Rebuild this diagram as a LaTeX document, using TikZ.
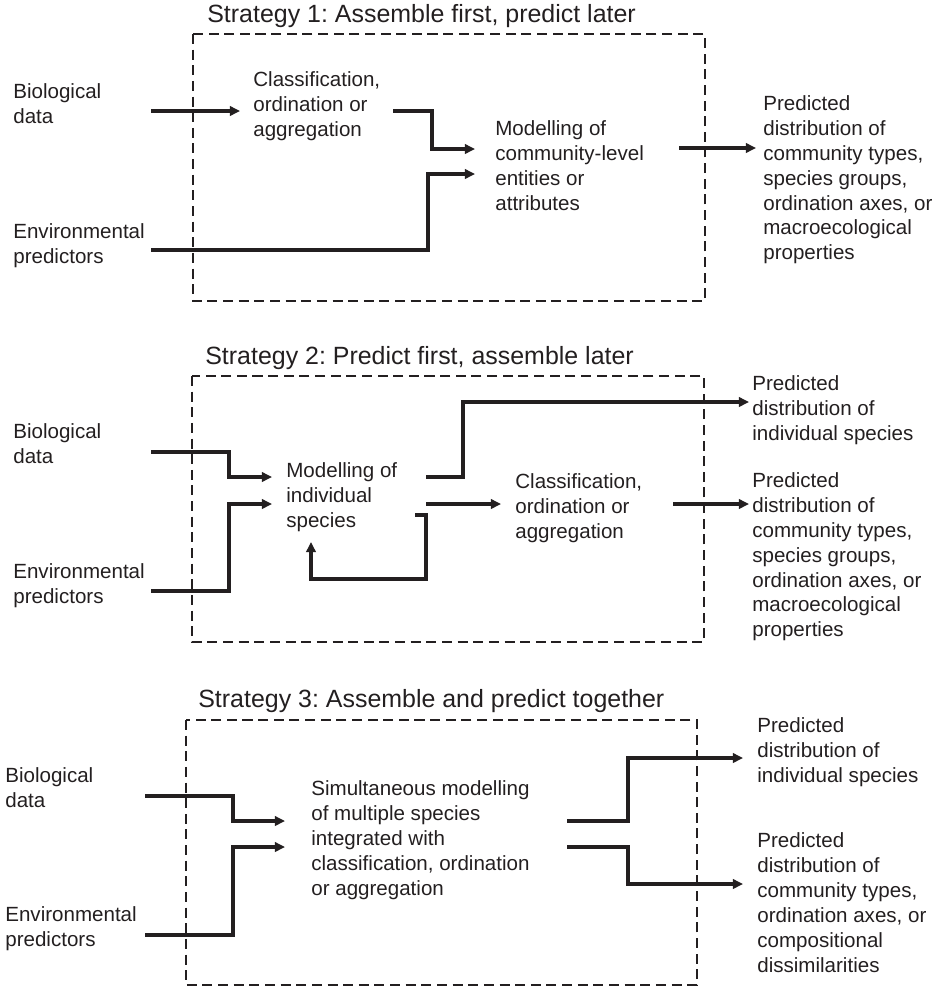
\documentclass[tikz,border=0pt]{standalone}
\usepackage{fontspec}
\setmainfont{Liberation Sans}
\usetikzlibrary{arrows.meta}
\definecolor{ink}{HTML}{231F20}
\frenchspacing
\tikzset{
  lbl/.style={anchor=north west, inner sep=0pt, align=left, text=ink,
    font=\fontsize{11.7}{14.2}\selectfont},
  ttl/.style={anchor=base west, inner sep=0pt, text=ink,
    font=\fontsize{14.2}{17}\selectfont},
  frame/.style={draw=ink, line width=1.2pt, dash pattern=on 5.7pt off 3.2pt},
  flow/.style={draw=ink, line width=2pt, -{Triangle[length=5.8pt,width=5.4pt]}},
}

\begin{document}
\begin{tikzpicture}[x=0.02cm, y=-0.02cm]
		\useasboundingbox (0,0) rectangle (949,994);
		
		%%%%% STRATEGY 1 %%%%%
		\node[ttl] (t1) at (207,22) {Strategy 1: Assemble first, predict later};
		\draw[frame] (193,34) rectangle (705,301);
		
		\node[lbl] (s1bio) at (13,83) {Biological\\data};
		\node[lbl] (s1env) at (13,223) {Environmental\\predictors};
		\node[lbl] (s1cls) at (253,71) {Classification,\\ordination or\\aggregation};
		\node[lbl] (s1mod) at (495,120) {Modelling of\\community-level\\entities or\\attributes};
		\node[lbl] (s1out) at (763,95) {Predicted\\distribution of\\community types,\\species groups,\\ordination axes, or\\macroecological\\properties};
		
		\coordinate (s1bio-o) at (151,111);
		\coordinate (s1env-o) at (151,250);
		\coordinate (s1cls-i) at (240,111);
		\coordinate (s1cls-o) at (393,111);
		\coordinate (s1mod-i1) at (475,149);
		\coordinate (s1mod-i2) at (475,174);
		\coordinate (s1mod-o) at (679,148);
		\coordinate (s1out-i) at (756,148);
		
		\draw[flow] (s1bio-o) -- (s1cls-i);
		\draw[flow] (s1cls-o) -- ++(39,0) |- (s1mod-i1);
		\draw[flow] (s1env-o) -- ++(277,0) |- (s1mod-i2);
		\draw[flow] (s1mod-o) -- (s1out-i);
		
		%%%%% STRATEGY 2 %%%%%
		\node[ttl] (t2) at (205,364) {Strategy 2: Predict first, assemble later};
		\draw[frame] (192,376) rectangle (704,642);
		
		\node[lbl] (s2bio) at (13,423) {Biological\\data};
		\node[lbl] (s2env) at (13,563) {Environmental\\predictors};
		\node[lbl] (s2mod) at (286,462) {Modelling of\\individual\\species};
		\node[lbl] (s2cls) at (515,473) {Classification,\\ordination or\\aggregation};
		\node[lbl] (s2ind) at (752,375) {Predicted\\distribution of\\individual species};
		\node[lbl] (s2com) at (752,472) {Predicted\\distribution of\\community types,\\species groups,\\ordination axes, or\\macroecological\\properties};
		
		\coordinate (s2bio-o) at (151,452);
		\coordinate (s2env-o) at (151,591);
		\coordinate (s2mod-i1) at (272,477);
		\coordinate (s2mod-i2) at (272,504);
		\coordinate (s2mod-o1) at (426,477);
		\coordinate (s2mod-o2) at (426,504);
		\coordinate (s2loop-o) at (415,515);
		\coordinate (s2loop-i) at (311,542);
		\coordinate (s2cls-i) at (501,504);
		\coordinate (s2cls-o) at (673,504);
		\coordinate (s2ind-i) at (749,402);
		\coordinate (s2com-i) at (749,504);
		
		\draw[flow] (s2bio-o) -- ++(78,0) |- (s2mod-i1);
		\draw[flow] (s2env-o) -- ++(78,0) |- (s2mod-i2);
		\draw[flow] (s2mod-o1) -- ++(37,0) |- (s2ind-i);
		\draw[flow] (s2mod-o2) -- (s2cls-i);
		\draw[flow] (s2loop-o) -- ++(11,0) -- ++(0,64) -| (s2loop-i);
		\draw[flow] (s2cls-o) -- (s2com-i);
		
		%%%%% STRATEGY 3 %%%%%
		\node[ttl] (t3) at (198,707) {Strategy 3: Assemble and predict together};
		\draw[frame] (186,720) rectangle (697,985);
		
		\node[lbl] (s3bio) at (5,767) {Biological\\data};
		\node[lbl] (s3env) at (5,906) {Environmental\\predictors};
		\node[lbl] (s3sim) at (311,780) {Simultaneous modelling\\of multiple species\\integrated with\\classification, ordination\\or aggregation};
		\node[lbl] (s3ind) at (757,717) {Predicted\\distribution of\\individual species};
		\node[lbl] (s3com) at (757,832) {Predicted\\distribution of\\community types,\\ordination axes, or\\compositional\\dissimilarities};
		
		\coordinate (s3bio-o) at (145,796);
		\coordinate (s3env-o) at (145,935);
		\coordinate (s3sim-i1) at (285,821);
		\coordinate (s3sim-i2) at (285,847);
		\coordinate (s3sim-o1) at (567,821);
		\coordinate (s3sim-o2) at (567,847);
		\coordinate (s3ind-i) at (743,758);
		\coordinate (s3com-i) at (743,884);
		
		\draw[flow] (s3bio-o) -- ++(88,0) |- (s3sim-i1);
		\draw[flow] (s3env-o) -- ++(88,0) |- (s3sim-i2);
		\draw[flow] (s3sim-o1) -- ++(61,0) |- (s3ind-i);
		\draw[flow] (s3sim-o2) -- ++(61,0) |- (s3com-i);
	\end{tikzpicture}
\end{document}
